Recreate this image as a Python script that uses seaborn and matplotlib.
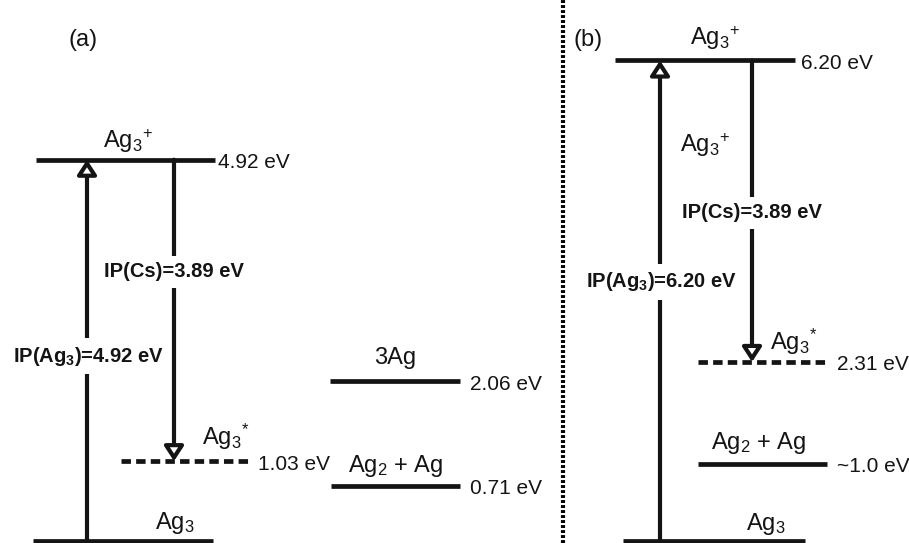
import numpy as np
import pandas as pd
import matplotlib
matplotlib.use("Agg")
import matplotlib.pyplot as plt
import seaborn as sns

# ---------------- data (energies in eV) ----------------
# panel (a)
levels_a = ["Ag3", "Ag3+", "Ag3*", "3Ag", "Ag2+Ag"]
energies_a = [0.0, 4.92, 1.03, 2.06, 0.71]
values_a = ["", "4.92 eV", "1.03 eV", "2.06 eV", "0.71 eV"]
# panel (b)
levels_b = ["Ag3", "Ag3+", "Ag3*", "Ag2+Ag"]
energies_b = [0.0, 6.20, 2.31, 1.0]
values_b = ["", "6.20 eV", "2.31 eV", "~1.0 eV"]
ip_ag3 = [4.92, 6.20]
ip_cs = [3.89, 3.89]
ip_ag3_labels = [r"IP(Ag$_\mathbf{3}$)=4.92 eV", r"IP(Ag$_\mathbf{3}$)=6.20 eV"]
ip_cs_labels = ["IP(Cs)=3.89 eV", "IP(Cs)=3.89 eV"]
level_text = {"Ag3": r"Ag$_3$", "Ag3+": r"Ag$_3$$^{\!+}$", "Ag3*": r"Ag$_3$$^{\!*}$",
              "3Ag": "3Ag", "Ag2+Ag": r"Ag$_2$ + Ag"}

# ---------------- layout (horizontal positions, pixel-like units) ----------------
PX = 77.5  # pixels per eV
span_a = {"Ag3": (33, 213), "Ag3+": (36, 215), "Ag3*": (121, 250),
          "3Ag": (330, 460), "Ag2+Ag": (331, 460)}
span_b = {"Ag3": (623, 805), "Ag3+": (615, 795), "Ag3*": (698, 827),
          "Ag2+Ag": (698, 827)}
name_x_a = {"Ag3": 175, "Ag3+": 128, "Ag3*": 202, "3Ag": 395, "Ag2+Ag": 396}
name_x_b = {"Ag3": 766, "Ag3+": 715, "Ag3*": 770, "Ag2+Ag": 759}
name_dy_a = {"Ag3": 5, "Ag3+": 5, "Ag3*": 9, "3Ag": 12, "Ag2+Ag": 7}
name_dy_b = {"Ag3": 4, "Ag3+": 8, "Ag3*": 5, "Ag2+Ag": 8}
val_x_a = {"Ag3+": 218, "Ag3*": 258, "3Ag": 470, "Ag2+Ag": 470}
val_x_b = {"Ag3+": 801, "Ag3*": 837, "Ag2+Ag": 837}
up_x = [87, 660]
down_x = [174, 752]
ip_ag3_y = [356, 282]   # pixel rows of the labels
ip_cs_y = [272, 213]
mid_label_b = (705, 145)

plt.rcParams.update({
    "mathtext.fontset": "custom",
    "mathtext.rm": "Liberation Sans",
    "mathtext.it": "Liberation Sans",
    "mathtext.bf": "Liberation Sans:bold",
    "mathtext.default": "regular",
})
sns.set_theme(style="white")
plt.rcParams["font.family"] = ["Liberation Sans", "DejaVu Sans"]

W, H = 909, 543
fig = plt.figure(figsize=(W / 100, H / 100), dpi=100)
ax = fig.add_axes([0, 0, 1, 1])

K = "#141414"

def py2e(py):
    return (541 - py) / PX

# ---------------- level lines ----------------
rows = []
dashed = []
for panel, names, ens, spans in (("a", levels_a, energies_a, span_a),
                                  ("b", levels_b, energies_b, span_b)):
    for n, e in zip(names, ens):
        x0, x1 = spans[n]
        if n == "Ag3*":
            dashed.append((x0, x1, e))
            continue
        rows.append({"unit": panel + n, "x": x0, "E": e})
        rows.append({"unit": panel + n, "x": x1, "E": e})
df = pd.DataFrame(rows)
sns.lineplot(data=df, x="x", y="E", units="unit", estimator=None, color=K,
             lw=3.4, legend=False, ax=ax, solid_capstyle="butt")
for x0, x1, e in dashed:
    ax.plot([x0, x1], [e, e], color=K, lw=3.4, dashes=(2.0, 1.1),
            dash_capstyle="butt")
ax.set_xlim(0, W)
ax.set_ylim(-2 / PX, 541 / PX)
ax.axis("off")

# ---------------- level names and values ----------------
for names, ens, nx, ndy, vx, vals in ((levels_a, energies_a, name_x_a, name_dy_a, val_x_a, values_a),
                                      (levels_b, energies_b, name_x_b, name_dy_b, val_x_b, values_b)):
    for n, e, v in zip(names, ens, vals):
        ha = "left" if n == "Ag3*" else "center"
        ax.text(nx[n], e + ndy[n] / PX, level_text[n], ha=ha, va="bottom",
                fontsize=17, color=K)
        if v:
            ax.text(vx[n], e - 3 / PX, v, ha="left", va="center",
                    fontsize=15, color=K)

ax.text(mid_label_b[0], py2e(mid_label_b[1]), level_text["Ag3+"], ha="center",
        va="center", fontsize=17, color=K)

# ---------------- arrows ----------------
aprops = dict(arrowstyle="-|>,head_length=0.55,head_width=0.36", mutation_scale=16,
              fc="white", ec=K, lw=3.0, shrinkA=0, shrinkB=0)
for i, ens in enumerate((energies_a, energies_b)):
    top = ip_ag3[i]
    low = top - ip_cs[i]
    ax.annotate("", xy=(up_x[i], top), xytext=(up_x[i], ens[0]), arrowprops=aprops)
    ax.annotate("", xy=(down_x[i], low), xytext=(down_x[i], top), arrowprops=aprops)
    box = dict(boxstyle="square,pad=0.32", fc="white", ec="none")
    ax.text(up_x[i] + 1, py2e(ip_ag3_y[i]), ip_ag3_labels[i], ha="center",
            va="center", fontsize=14.5, fontweight="bold", color=K, bbox=box, zorder=5)
    ax.text(down_x[i], py2e(ip_cs_y[i]), ip_cs_labels[i], ha="center",
            va="center", fontsize=14.5, fontweight="bold", color=K, bbox=box, zorder=5)

# ---------------- panel letters and divider ----------------
ax.text(83, py2e(40), "(a)", ha="center", va="center", fontsize=17, color=K)
ax.text(588, py2e(40), "(b)", ha="center", va="center", fontsize=17, color=K)
ax.axvline(563, color="#000000", lw=3.0, ls=(0, (0.7, 0.5)))

fig.savefig("out.png", dpi=100)
